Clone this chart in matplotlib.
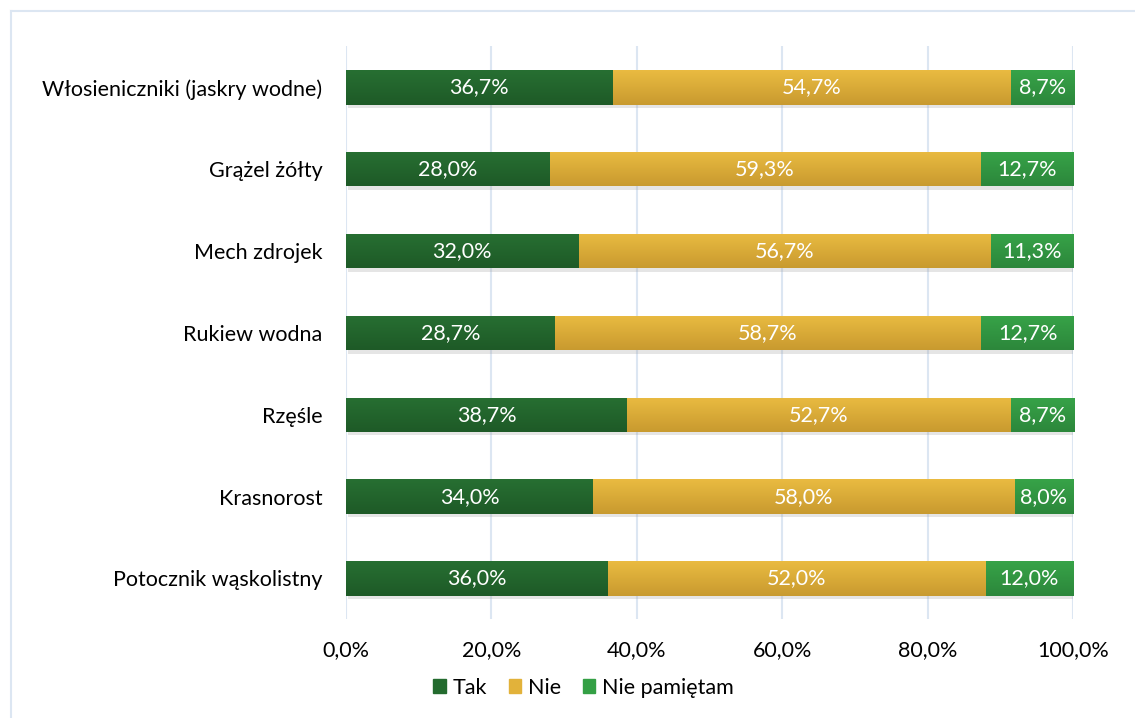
import numpy as np
import matplotlib
matplotlib.use('Agg')
import matplotlib.pyplot as plt
import matplotlib.patheffects as pe
from matplotlib.colors import LinearSegmentedColormap
from matplotlib.lines import Line2D

plt.rcParams['font.family'] = ['Lato', 'DejaVu Sans']

# data
categories = ['Włosieniczniki (jaskry wodne)', 'Grążel żółty', 'Mech zdrojek',
              'Rukiew wodna', 'Rzęśle', 'Krasnorost', 'Potocznik wąskolistny']
tak = [36.7, 28.0, 32.0, 28.7, 38.7, 34.0, 36.0]
nie = [54.7, 59.3, 56.7, 58.7, 52.7, 58.0, 52.0]
nie_pam = [8.7, 12.7, 11.3, 12.7, 8.7, 8.0, 12.0]
series_names = ['Tak', 'Nie', 'Nie pamiętam']
xticks = [0, 20, 40, 60, 80, 100]

# (top, bottom) gradient colours per series
grads = [('#276F32', '#1E5A27'), ('#EABB41', '#C89A2F'), ('#37A348', '#2C873B')]
colors = ['#236B2E', '#E2B23A', '#34A045']

fig = plt.figure(figsize=(11.35, 7.18), dpi=100)
ax = fig.add_axes([0.3048, 0.1373, 0.6406, 0.798])

y = np.arange(len(categories))
left = np.zeros(len(categories))
shadow = [pe.SimplePatchShadow(offset=(1.5, -2.5), shadow_rgbFace='#999999', alpha=0.25), pe.Normal()]
grad_img = np.linspace(0, 1, 64).reshape(-1, 1)
for vals, name, col, g in zip([tak, nie, nie_pam], series_names, colors, grads):
    cmap = LinearSegmentedColormap.from_list(name, [g[0], g[1]])
    bars = ax.barh(y, vals, left=left, height=0.42, color=col, label=name, zorder=3)
    for b in bars:
        b.set_path_effects(shadow)
        x0, y0 = b.get_x(), b.get_y()
        im = ax.imshow(grad_img, cmap=cmap, aspect='auto', zorder=3.5,
                       extent=(x0, x0 + b.get_width(), y0 + b.get_height(), y0),
                       origin='upper')
        im.set_clip_path(b)
    for yi, l, v in zip(y, left, vals):
        ax.text(l + v / 2, yi, f'{v:.1f}%'.replace('.', ','), ha='center', va='center',
                color='white', fontsize=15.5, zorder=4)
    left = left + np.array(vals)

ax.set_xlim(0, 100)
ax.set_ylim(len(categories) - 0.5, -0.5)
ax.set_aspect('auto')
ax.set_xticks(xticks)
ax.set_xticklabels([f'{t:.1f}%'.replace('.', ',') for t in xticks], fontsize=15.5)
ax.set_yticks(y)
ax.set_yticklabels(categories, fontsize=15.5)
ax.tick_params(length=0, pad=17, axis='y')
ax.tick_params(length=0, pad=15, axis='x')
ax.grid(axis='x', color='#DCE6F2', linewidth=1.5, zorder=0)
for s in ax.spines.values():
    s.set_visible(False)

handles = [plt.Rectangle((0, 0), 1, 1, color=c) for c in colors]
fig.legend(handles, series_names, loc='center', bbox_to_anchor=(0.514, 0.042), ncol=3,
           frameon=False, fontsize=15.5, handlelength=0.6, handleheight=0.6,
           handletextpad=0.3, columnspacing=1.0)

# chart area border
fig.add_artist(Line2D([11 / 1135, 1], [1 - 11 / 718] * 2, color='#DCE6F2', lw=1.5))
fig.add_artist(Line2D([11 / 1135] * 2, [0, 1 - 11 / 718], color='#DCE6F2', lw=1.5))

fig.savefig('out.png', dpi=100)
